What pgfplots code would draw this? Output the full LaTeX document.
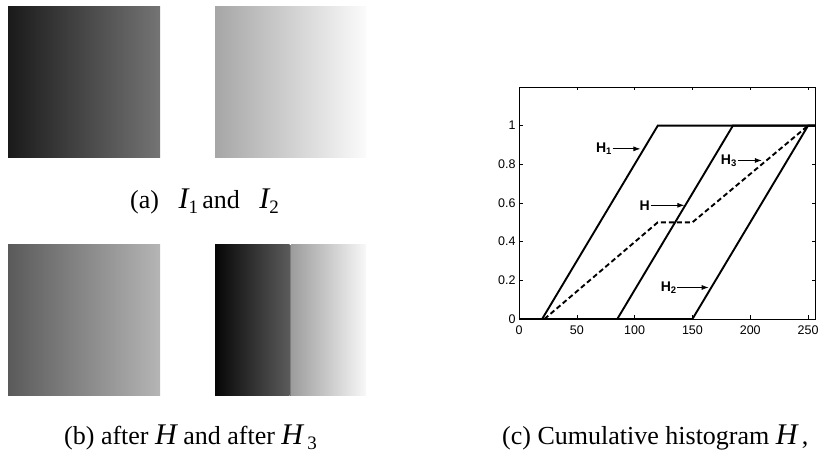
\documentclass[border=0pt]{standalone}
\usepackage{fontspec}
\setmainfont{Liberation Serif}
\setsansfont{Liberation Sans}
\usepackage{pgfplots}
\pgfplotsset{compat=1.18}
\usetikzlibrary{arrows.meta}
\definecolor{sqAa}{HTML}{1A1A1A}
\definecolor{sqAb}{HTML}{747474}
\definecolor{sqBa}{HTML}{A6A6A6}
\definecolor{sqBb}{HTML}{FBFBFB}
\definecolor{sqCa}{HTML}{5A5A5A}
\definecolor{sqCb}{HTML}{B5B5B5}
\definecolor{sqDa}{HTML}{060606}
\definecolor{sqDb}{HTML}{5B5B5B}
\definecolor{sqDm}{HTML}{7C7C7C}
\definecolor{sqDc}{HTML}{9C9C9C}
\definecolor{sqDd}{HTML}{F8F8F8}
\newcommand{\capfont}{\fontsize{26}{28}\selectfont}
\newcommand{\bigH}[1]{{\fontsize{30}{30}\selectfont\itshape #1}}
\newcommand{\sub}[1]{\raisebox{-5pt}{\fontsize{19}{19}\selectfont #1}}
\newcommand{\lab}[2]{\sffamily\bfseries\fontsize{14}{14}\selectfont #1\raisebox{-0.3ex}{\fontsize{9.5}{9.5}\selectfont #2}}

\begin{document}
\begin{tikzpicture}[x=1pt,y=1pt]
\useasboundingbox (0,0) rectangle (818,457);

% gradient images
\shade[left color=sqAa, right color=sqAb] (8,299) rectangle (160,450);
\shade[left color=sqBa, right color=sqBb] (215,299) rectangle (366,450);
\shade[left color=sqCa, right color=sqCb] (8,61) rectangle (160,212);
\shade[left color=sqDa, right color=sqDb] (215,61) rectangle (289.5,212);
\fill[sqDm] (289.5,61) rectangle (291,212);
\shade[left color=sqDc, right color=sqDd] (291,61) rectangle (366,212);

% captions
\node[anchor=base west, inner sep=0] at (130,248)
  {\capfont (a)\hspace{0.75em}\bigH{I}\sub{1}\,and\hspace{0.75em}\bigH{I}\sub{2}};
\node[anchor=base west, inner sep=0] at (64,12)
  {\capfont (b) after \bigH{H} and after \bigH{H}\,\sub{3}};
\node[anchor=base west, inner sep=0] at (502,12)
  {\capfont (c) Cumulative histogram \bigH{H}\,,};

\begin{axis}[
    at={(519pt,138pt)}, anchor=south west,
    scale only axis,
    width=296pt, height=232pt,
    xmin=0, xmax=256,
    ymin=0, ymax=1.2,
    xtick={0,50,100,150,200,250},
    ytick={0,0.2,0.4,0.6,0.8,1},
    xtick pos=both, ytick pos=both,
    tick align=inside,
    major tick length=3.5pt,
    axis line style={line width=0.9pt},
    tick style={black, line width=0.6pt},
    ticklabel style={font=\sffamily\fontsize{12.5}{12.5}\selectfont},
    /pgf/number format/assume math mode=true,
    xticklabel style={yshift=-3pt},
    clip=false,
]
\addplot[black, line width=1.9pt] coordinates {(0,0) (20,0) (120,1) (256,1)};
\addplot[black, line width=1.9pt] coordinates {(85,0) (185,1) (256,1)};
\addplot[black, line width=1.9pt] coordinates {(0,0) (150,0) (250,1) (256,1)};
\addplot[black, line width=1.9pt, dash pattern=on 5pt off 3pt] coordinates {(22,0) (120,0.5) (150,0.5) (250,1)};

\node[anchor=east, inner sep=1pt] at (axis cs:81,0.88) {\lab{H}{1}};
\draw[-{Latex[length=7pt,width=5pt]}, line width=0.8pt] (axis cs:81,0.88) -- (axis cs:105,0.88);
\node[anchor=east, inner sep=1pt] at (axis cs:189,0.82) {\lab{H}{3}};
\draw[-{Latex[length=7pt,width=5pt]}, line width=0.8pt] (axis cs:189,0.82) -- (axis cs:210,0.82);
\node[anchor=east, inner sep=1pt] at (axis cs:114,0.588) {\sffamily\bfseries\fontsize{14}{14}\selectfont H};
\draw[-{Latex[length=7pt,width=5pt]}, line width=0.8pt] (axis cs:114,0.588) -- (axis cs:143,0.588);
\node[anchor=east, inner sep=1pt] at (axis cs:137,0.163) {\lab{H}{2}};
\draw[-{Latex[length=7pt,width=5pt]}, line width=0.8pt] (axis cs:137,0.163) -- (axis cs:164,0.163);
\end{axis}
\end{tikzpicture}
\end{document}
